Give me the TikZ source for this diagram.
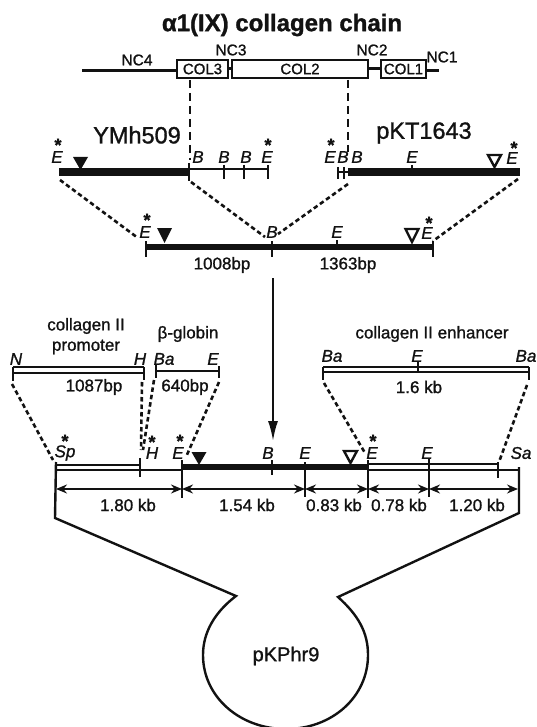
\documentclass[tikz,border=0pt]{standalone}
\usepackage{fontspec}
\setmainfont{Liberation Sans}[RawFeature={embolden=1.2}]
\usepackage{xcolor}
\usetikzlibrary{arrows.meta}
\definecolor{TintaGel}{RGB}{18,18,18}
\tikzset{
  site/.style={font=\fontsize{17}{17}\selectfont\itshape,inner sep=0pt},
  sitestar/.style={font=\fontsize{18}{18}\selectfont\bfseries,inner sep=0pt},
  small/.style={font=\fontsize{15.5}{15.5}\selectfont,inner sep=0pt},
  sizelabel/.style={font=\fontsize{17}{17}\selectfont,inner sep=0pt},
  big/.style={font=\fontsize{23.5}{23.5}\selectfont,inner sep=0pt},
  heavybar/.style={line width=8pt},
  tickmark/.style={line width=2pt},
  fineline/.style={line width=2pt},
  dashlink/.style={line width=2.6pt,dash pattern=on 4.5pt off 3pt},
  cutlink/.style={line width=2.4pt,dash pattern=on 8pt off 5pt},
  domainbox/.style={draw,line width=2.4pt,inner sep=0pt,font=\fontsize{15}{15}\selectfont},
  sizearrow/.style={line width=1.6pt,{Stealth[length=11pt,width=9pt]}-{Stealth[length=11pt,width=9pt]}},
}
\begin{document}
\begin{tikzpicture}[x=1pt,y=-1pt,color=TintaGel,text=TintaGel]
  \useasboundingbox (0,0) rectangle (537,727);
  \clip (0,0) rectangle (537,727);
  % chain
  \node[font=\fontsize{24}{24}\selectfont\bfseries,inner sep=0pt] (title) at (282,25) {α1(IX) collagen chain};
  \node[domainbox,minimum width=51pt,minimum height=18pt] (col3) at (202.5,69) {COL3};
  \node[domainbox,minimum width=136pt,minimum height=18pt] (col2) at (300,69) {COL2};
  \node[domainbox,minimum width=45pt,minimum height=18pt] (col1) at (403.5,69) {COL1};
  \coordinate (nterm) at (82,71);
  \coordinate (cterm) at (439,71);
  \draw[line width=3pt] (nterm) -- (nterm-|col3.west);
  \draw[line width=3pt] (col3.east) -- (col2.west);
  \draw[line width=3pt] (col2.east) -- (col1.west);
  \draw[line width=3pt] (col1.east|-cterm) -- (cterm);
  \node[small] (nc4) at (137,60) {NC4};
  \node[small] (nc3) at (231,50) {NC3};
  \node[small] (nc2) at (372,50) {NC2};
  \node[small] (nc1) at (442,57) {NC1};
  \coordinate (cutL) at (190,80);
  \coordinate (cutR) at (348,80);
  \coordinate (cutLb) at (190,160);
  \coordinate (cutRb) at (348,152);
  \draw[cutlink] (cutL) -- (cutLb);
  \draw[cutlink] (cutR) -- (cutRb);
  % genomic clones
  \node[big] (ymh) at (137,135) {YMh509};
  \node[big] (pkt) at (424,133) {pKT1643};
  \coordinate (ymA) at (59,172);
  \coordinate (ymB) at (189,172);
  \coordinate (ymC) at (268,169);
  \draw[heavybar] (ymA) -- (ymB);
  \draw[fineline] (ymB|-ymC) -- (ymC);
  \draw[tickmark] (189,163) -- (189,181);
  \foreach \x in {224,244,268} \draw[tickmark] (\x,165) -- (\x,179);
  \fill (73,157) -- (88,157) -- (80.5,170) -- cycle;
  \node[site] (ymE1) at (57,157) {E};
  \node[sitestar] (ymS1) at (58,145) {*};
  \node[site] (ymB1) at (198,157) {B};
  \node[site] (ymB2) at (224,157) {B};
  \node[site] (ymB3) at (246,157) {B};
  \node[site] (ymE2) at (267,157) {E};
  \node[sitestar] (ymS2) at (268,145) {*};
  \coordinate (pkA) at (348,172);
  \coordinate (pkB) at (520,172);
  \draw[heavybar] (pkA) -- (pkB);
  \draw[fineline] (338,172) -- (pkA);
  \foreach \x in {338,344} \draw[tickmark] (\x,167) -- (\x,179);
  \draw[tickmark] (412,165) -- (412,172);
  \draw[line width=2.4pt] (488,155) -- (501,155) -- (494.5,167) -- cycle;
  \node[site] (pkE1) at (330,157) {E};
  \node[sitestar] (pkS1) at (331,145) {*};
  \node[site] (pkB1) at (343,157) {B};
  \node[site] (pkB2) at (357,157) {B};
  \node[site] (pkE2) at (412,157) {E};
  \node[site] (pkE3) at (512,158) {E};
  \node[sitestar] (pkS2) at (514,148) {*};
  % joined fragment
  \coordinate (joinA) at (146,247);
  \coordinate (joinB) at (272,247);
  \coordinate (joinC) at (433,247);
  \draw[line width=6.5pt] (joinA) -- (joinC);
  \foreach \x in {146,272,433} \draw[tickmark] (\x,241) -- (\x,257);
  \draw[tickmark] (337,240) -- (337,247);
  \fill (157,228) -- (172,228) -- (164.5,243) -- cycle;
  \draw[line width=2.4pt] (405.5,229) -- (418.5,229) -- (412,242) -- cycle;
  \node[site] (joinE1) at (145,232) {E};
  \node[sitestar] (joinS1) at (147,220) {*};
  \node[site] (joinB1) at (272,232) {B};
  \node[site] (joinE2) at (337,232) {E};
  \node[site] (joinE3) at (427,233) {E};
  \node[sitestar] (joinS2) at (429,223) {*};
  \node[sizelabel] (bp1008) at (222,265) {1008bp};
  \node[sizelabel] (bp1363) at (348,265) {1363bp};
  \coordinate (ymAd) at (60,180);
  \coordinate (ymBd) at (191,182);
  \coordinate (pkAd) at (348,184);
  \coordinate (pkBd) at (518,179);
  \coordinate (joinAd) at (138,238);
  \coordinate (joinBd) at (265,237);
  \coordinate (joinBe) at (278,234);
  \coordinate (joinCd) at (433,241);
  \draw[dashlink] (ymAd) -- (joinAd);
  \draw[dashlink] (ymBd) -- (joinBd);
  \draw[dashlink] (pkAd) -- (joinBe);
  \draw[dashlink] (pkBd) -- (joinCd);
  % arrow to construct
  \coordinate (downA) at (273,278);
  \coordinate (downB) at (273,441);
  \draw[line width=2pt,-{Latex[length=20pt,width=10pt]}] (downA) -- (downB);
  % inserts
  \node[sizelabel] (promo1) at (86,326) {collagen II};
  \node[sizelabel] (promo2) at (86,347) {promoter};
  \node[sizelabel] (globin) at (188,334) {β-globin};
  \node[sizelabel] (enhancer) at (432,334) {collagen II enhancer};
  \node[site] (insN) at (16,359) {N};
  \node[site] (insH) at (140,359) {H};
  \node[site] (insBa) at (164,359) {Ba};
  \node[site] (insE) at (213,359) {E};
  \node[site] (enhBa1) at (332,356) {Ba};
  \node[site] (enhE) at (417,356) {E};
  \node[site] (enhBa2) at (526,356) {Ba};
  \node[sizelabel] (bp1087) at (94,387) {1087bp};
  \node[sizelabel] (bp640) at (185,387) {640bp};
  \node[sizelabel] (kb16) at (419,387) {1.6 kb};
  \draw[line width=1.2pt] (13,367) -- (144,367);
  \draw[fineline] (13,373) -- (144,373);
  \draw[tickmark] (13,367) -- (13,381);
  \draw[tickmark] (144,367) -- (144,380);
  \draw[fineline] (156,371) -- (219,371);
  \draw[tickmark] (156,365) -- (156,378);
  \draw[tickmark] (219,366) -- (219,378);
  \draw[line width=1.2pt] (323,367) -- (529,367);
  \draw[fineline] (323,372) -- (529,372);
  \draw[tickmark] (323,367) -- (323,380);
  \draw[tickmark] (529,367) -- (529,380);
  \draw[tickmark] (418,362) -- (418,372);
  \coordinate (insNd) at (12,384);
  \coordinate (insHd) at (142,382);
  \coordinate (insBad) at (154,380);
  \coordinate (insEd) at (219,382);
  \coordinate (enhAd) at (324,383);
  \coordinate (enhBd) at (527,385);
  \coordinate (consSp) at (53,460);
  \coordinate (consH) at (141,450);
  \coordinate (consHb) at (143,450);
  \coordinate (consE) at (186,457);
  \coordinate (consEb) at (365,453);
  \coordinate (consX) at (499,462);
  \draw[dashlink] (insNd) -- (consSp);
  \draw[dashlink] (insHd) -- (consH);
  \draw[dashlink] (insBad) -- (consHb);
  \draw[dashlink] (insEd) -- (consE);
  \draw[dashlink] (enhAd) -- (consEb);
  \draw[dashlink] (enhBd) -- (consX);
  % construct
  \draw[line width=1.2pt] (56,465) -- (140,465);
  \draw[fineline] (56,470) -- (182,470);
  \draw[line width=6.5pt] (182,467) -- (368,467);
  \draw[fineline] (368,464) -- (498,464);
  \draw[fineline] (368,470) -- (518,470);
  \foreach \x/\ya/\yb in {140/458/477,182/460/498,272/460/475,305/462/497,368/460/498,429/458/497,498/462/478}
    \draw[tickmark] (\x,\ya) -- (\x,\yb);
  \fill (191.5,452) -- (206.5,452) -- (199,465) -- cycle;
  \draw[line width=2.4pt] (344,451) -- (357,451) -- (350.5,463) -- cycle;
  \node[site] (consSite1) at (65,453) {Sp};
  \node[sitestar] (consStar1) at (65,441) {*};
  \node[site] (consSite2) at (152,453) {H};
  \node[sitestar] (consStar2) at (152,442) {*};
  \node[site] (consSite3) at (178,453) {E};
  \node[sitestar] (consStar3) at (180,441) {*};
  \node[site] (consSite4) at (268,453) {B};
  \node[site] (consSite5) at (305,453) {E};
  \node[site] (consSite6) at (372,453) {E};
  \node[sitestar] (consStar6) at (373,441) {*};
  \node[site] (consSite7) at (427,453) {E};
  \node[site] (consSite8) at (521,453) {Sa};
  % sizes
  \coordinate (dimA) at (56,489);
  \coordinate (dimB) at (182,489);
  \coordinate (dimC) at (305,489);
  \coordinate (dimD) at (368,489);
  \coordinate (dimE) at (429,489);
  \coordinate (dimF) at (518,489);
  \draw[sizearrow] (dimA) -- (dimB);
  \draw[sizearrow] (dimB) -- (dimC);
  \draw[sizearrow] (dimC) -- (dimD);
  \draw[sizearrow] (dimD) -- (dimE);
  \draw[sizearrow] (dimE) -- (dimF);
  \node[sizelabel] (kb180) at (128,505) {1.80 kb};
  \node[sizelabel] (kb154) at (247,505) {1.54 kb};
  \node[sizelabel] (kb083) at (334,505) {0.83 kb};
  \node[sizelabel] (kb078) at (399,505) {0.78 kb};
  \node[sizelabel] (kb120) at (477,505) {1.20 kb};
  % plasmid
  \coordinate (backL) at (56,462);
  \coordinate (backLb) at (55,518);
  \coordinate (neckL) at (236,596);
  \coordinate (backR) at (519,467);
  \coordinate (backRb) at (519,513);
  \coordinate (neckR) at (338,597);
  \draw[line width=2.4pt,line join=miter] (backL) -- (backLb) -- (neckL)
    .. controls (215,612) and (203,632) .. (203,655)
    .. controls (203,697) and (240,729) .. (286,729)
    .. controls (332,729) and (368,697) .. (368,655)
    .. controls (368,632) and (358,615) .. (neckR) -- (backRb) -- (backR);
  \node[font=\fontsize{20}{20}\selectfont,inner sep=0pt] (pkphr) at (286,656) {pKPhr9};
\end{tikzpicture}
\end{document}
